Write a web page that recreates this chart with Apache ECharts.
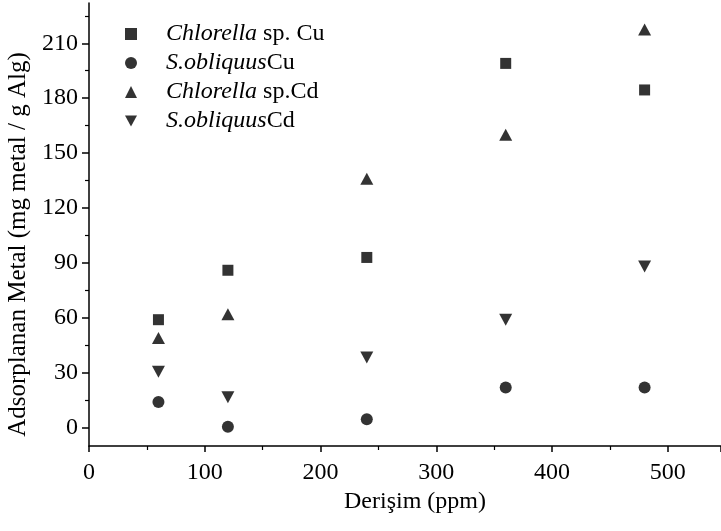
<!DOCTYPE html>
<html>
<head>
<meta charset="utf-8">
<script src="https://cdn.jsdelivr.net/npm/echarts@6/dist/echarts.min.js"></script>
<style>
  html, body { margin: 0; padding: 0; background: #fff; }
  #chart { width: 721px; height: 531px; }
</style>
</head>
<body>
<div id="chart"></div>
<script>
// konsantrasyon (ppm)
const derisim = [60, 120, 240, 360, 480];

// adsorplanan metal (mg metal / g alg)
const chlorellaCu = [59, 86, 93, 199, 184.5];
const obliquusCu = [14, 0.5, 4.6, 22, 22];
const chlorellaCd = [49, 62, 136, 160, 217.5];
const obliquusCd = [30.5, 16.6, 38.4, 59, 88];

const yTicks = [0, 30, 60, 90, 120, 150, 180, 210];
const yMinorTicks = [15, 45, 75, 105, 135, 165, 195, 225];

const font = 'Liberation Serif';
const black = '#000';

const pairs = (ys) => derisim.map((x, i) => [x, ys[i]]);

const downTriangle = 'path://M0,0 L12,0 L6,11 Z';

let myChart = echarts.init(document.getElementById('chart'));

let option = {
  animation: false,
  backgroundColor: '#fff',
  grid: {
    left: 89,
    right: 0,
    top: 3,
    bottom: 85,
    outerBoundsMode: 'none'
  },
  legend: {
    orient: 'vertical',
    left: 120,
    top: 17,
    itemWidth: 12,
    itemHeight: 12,
    itemGap: 5,
    textStyle: {
      fontFamily: font,
      fontSize: 24,
      lineHeight: 22,
      color: black,
      rich: {
        s: { width: 24 },
        i: { fontFamily: font, fontSize: 24, fontStyle: 'italic', color: black }
      }
    },
    formatter: function (name) {
      if (name === 'Chlorella sp. Cu') return '{s|}{i|Chlorella} sp. Cu';
      if (name === 'S.obliquus Cu') return '{s|}{i|S.obliquus}Cu';
      if (name === 'Chlorella sp.Cd') return '{s|}{i|Chlorella} sp.Cd';
      return '{s|}{i|S.obliquus}Cd';
    }
  },
  xAxis: {
    type: 'value',
    min: 0,
    max: 546,
    interval: 100,
    name: 'Derişim (ppm)',
    nameLocation: 'middle',
    nameGap: 38,
    nameTextStyle: { fontFamily: font, fontSize: 24, color: black, padding: [0, 0, 0, 20] },
    axisLine: { show: true, onZero: false, lineStyle: { color: black, width: 1.5 } },
    axisTick: { show: true, length: 6, lineStyle: { color: black, width: 1.5 } },
    minorTick: { show: true, splitNumber: 2, length: 4, lineStyle: { color: black, width: 1.2 } },
    axisLabel: {
      fontFamily: font,
      fontSize: 24,
      color: black,
      margin: 15,
      showMaxLabel: false
    },
    splitLine: { show: false }
  },
  yAxis: [
    {
      type: 'value',
      min: -10,
      max: 232,
      position: 'left',
      name: 'Adsorplanan Metal (mg metal / g Alg)',
      nameLocation: 'middle',
      nameGap: 53,
      nameTextStyle: { fontFamily: font, fontSize: 25, color: black, padding: [8, 40, 0, 0] },
      axisLine: { show: true, onZero: false, lineStyle: { color: black, width: 1.5 } },
      axisTick: { show: true, customValues: yTicks, length: 7, lineStyle: { color: black, width: 1.5 } },
      axisLabel: {
        customValues: yTicks,
        fontFamily: font,
        fontSize: 24,
        color: black,
        margin: 11
      },
      splitLine: { show: false }
    },
    {
      type: 'value',
      min: -10,
      max: 232,
      position: 'left',
      axisLine: { show: false },
      axisTick: { show: true, customValues: yMinorTicks, length: 4, lineStyle: { color: black, width: 1.2 } },
      axisLabel: { show: false },
      splitLine: { show: false }
    }
  ],
  series: [
    {
      name: 'Chlorella sp. Cu',
      type: 'scatter',
      symbol: 'rect',
      symbolSize: 11,
      itemStyle: { color: black },
      data: pairs(chlorellaCu)
    },
    {
      name: 'S.obliquus Cu',
      type: 'scatter',
      symbol: 'circle',
      symbolSize: 12,
      itemStyle: { color: black },
      data: pairs(obliquusCu)
    },
    {
      name: 'Chlorella sp.Cd',
      type: 'scatter',
      symbol: 'triangle',
      symbolSize: [13, 12],
      itemStyle: { color: black },
      data: pairs(chlorellaCd)
    },
    {
      name: 'S.obliquus Cd',
      type: 'scatter',
      symbol: downTriangle,
      symbolSize: [13, 12],
      itemStyle: { color: black },
      data: pairs(obliquusCd)
    }
  ]
};

myChart.setOption(option);
</script>
</body>
</html>
